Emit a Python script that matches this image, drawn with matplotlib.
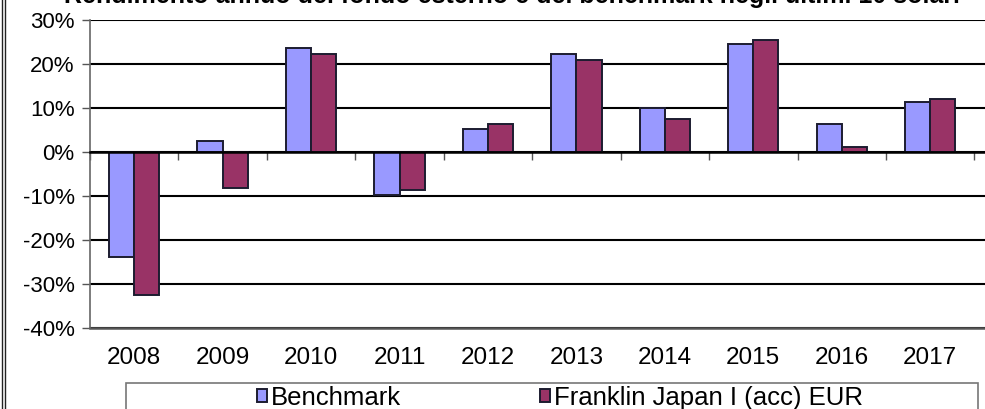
import matplotlib.pyplot as plt
import matplotlib.lines as mlines
import matplotlib.patches as mpatches
import numpy as np

plt.rcParams['font.family'] = ['Liberation Sans', 'DejaVu Sans']

# values (%)
years = ["2008", "2009", "2010", "2011", "2012", "2013", "2014", "2015", "2016", "2017"]
benchmark = [-23.9, 2.6, 23.6, -9.7, 5.3, 22.2, 10.1, 24.6, 6.5, 11.3]
franklin = [-32.4, -8.1, 22.3, -8.7, 6.4, 21.0, 7.5, 25.5, 1.1, 12.0]
series_names = ["Benchmark", "Franklin Japan I (acc) EUR"]
title = "Rendimento annuo del fondo esterno e del benchmark negli ultimi 10 solari"

W, H = 985, 409
fig = plt.figure(figsize=(W / 100, H / 100), dpi=100)
ax = fig.add_axes([90 / W, (H - 328.3) / H, (W - 90) / W, (328.3 - 20) / H])

x = np.arange(len(years))
w = 0.285
edge = "#1c1c30"
ax.bar(x - w / 2, benchmark, w, color="#9999FF", edgecolor=edge, linewidth=1.4,
       label=series_names[0], zorder=3)
ax.bar(x + w / 2, franklin, w, color="#993366", edgecolor=edge, linewidth=1.4,
       label=series_names[1], zorder=3)

ax.set_xlim(-0.5, 9.62)
ax.set_ylim(-40, 30)
ax.set_yticks(np.arange(-40, 31, 10))
ax.set_yticklabels([f"{v}%" for v in range(-40, 31, 10)], fontsize=16)
ax.yaxis.grid(True, color="black", linewidth=1.5, zorder=1)
ax.tick_params(axis="y", length=6, width=1, color="#555555", pad=5)

# category axis sits on the zero line, ticks between categories
ax.spines["bottom"].set_position(("data", 0))
ax.spines["bottom"].set_linewidth(1.8)
ax.spines["bottom"].set_zorder(4)
ax.set_xticks(np.arange(-0.5, 10.5, 1))
ax.set_xticklabels([])
ax.tick_params(axis="x", length=6, width=1, color="#555555", direction="out")
for i, yr in enumerate(years):
    ax.text(i, -0.095, yr, transform=ax.get_xaxis_transform(), ha="center",
            va="center", fontsize=17.5)

for s in ["top", "right"]:
    ax.spines[s].set_visible(False)
ax.spines["left"].set_color("#666666")
ax.spines["left"].set_linewidth(1.2)
ax.axhline(-40, color="#555555", linewidth=1.8, zorder=2, clip_on=False)

# title, mostly cut off by the top edge
fig.text(0.52, 1 - 3 / H, title, ha="center", va="baseline", fontsize=18,
         fontweight="bold")

# legend box running off the bottom edge
fig.patches.append(mpatches.Rectangle((126 / W, -0.05), (978 - 126) / W, 0.05 + (H - 383) / H,
                                      transform=fig.transFigure, fill=False,
                                      edgecolor="#777777", linewidth=1.2))
handles, labels = ax.get_legend_handles_labels()
fig.legend(handles, labels, loc="center left", bbox_to_anchor=(257 / W, (H - 398) / H),
           ncol=2, frameon=False, fontsize=18.5, handlelength=0.4, handleheight=0.4,
           handletextpad=0.15, columnspacing=5.4, borderpad=0, borderaxespad=0)

# double frame on the left edge
for xp in (1.5, 5):
    fig.add_artist(mlines.Line2D([xp / W, xp / W], [0, 1], transform=fig.transFigure,
                                 color="#222222", linewidth=1.0))

fig.savefig("out.png", dpi=100)
